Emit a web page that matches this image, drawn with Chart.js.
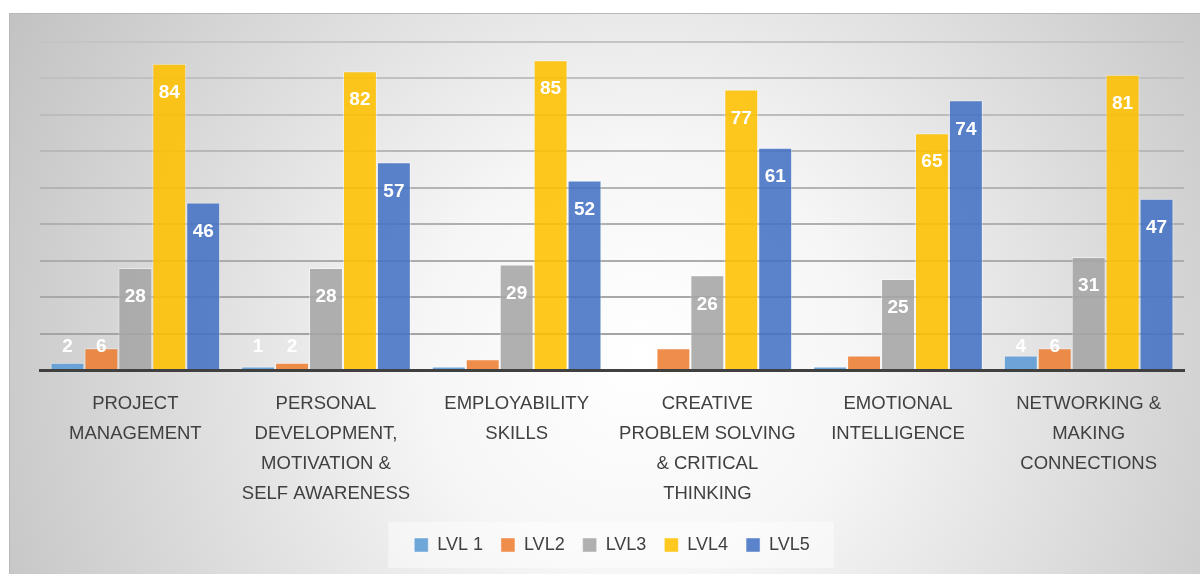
<!DOCTYPE html>
<html>
<head>
<meta charset="utf-8">
<script src="https://cdn.jsdelivr.net/npm/chart.js@4.4.1/dist/chart.umd.min.js"></script>
<style>
  html, body { margin: 0; padding: 0; background: #ffffff; }
  #wrap { width: 1200px; height: 574px; position: relative; }
</style>
</head>
<body>
<div id="wrap"><canvas id="chart"></canvas></div>
<script>
var categories = [
    ['PROJECT', 'MANAGEMENT'],
    ['PERSONAL', 'DEVELOPMENT,', 'MOTIVATION &', 'SELF AWARENESS'],
    ['EMPLOYABILITY', 'SKILLS'],
    ['CREATIVE', 'PROBLEM SOLVING', '& CRITICAL', 'THINKING'],
    ['EMOTIONAL', 'INTELLIGENCE'],
    ['NETWORKING &', 'MAKING', 'CONNECTIONS']
];
var levelNames = ['LVL 1', 'LVL2', 'LVL3', 'LVL4', 'LVL5'];
var lvl1 = [2, 1, 1, 0, 1, 4];
var lvl2 = [6, 2, 3, 6, 4, 6];
var lvl3 = [28, 28, 29, 26, 25, 31];
var lvl4 = [84, 82, 85, 77, 65, 81];
var lvl5 = [46, 57, 52, 61, 74, 47];
// categories whose tiny LVL1/LVL2 values still get a label in the picture
var smallLabelCats = [0, 1, 5];
var yMax = 90;
var yStep = 10;

var colors = ['rgba(91,155,213,0.88)', 'rgba(237,125,49,0.88)', 'rgba(165,165,165,0.88)',
              'rgba(255,192,0,0.88)', 'rgba(68,114,196,0.88)'];
var font = "'Liberation Sans', Arial, sans-serif";

var bgPlugin = {
    id: 'bg',
    beforeDraw: function(chart) {
        var ctx = chart.ctx;
        ctx.save();
        var g = ctx.createRadialGradient(640, 360, 0, 640, 360, 720);
        g.addColorStop(0, '#ffffff');
        g.addColorStop(0.3, '#f6f6f6');
        g.addColorStop(1, '#c2c2c2');
        ctx.fillStyle = g;
        ctx.fillRect(9, 13, 1191, 561);
        ctx.fillStyle = '#b8b8b8';
        ctx.fillRect(9, 13, 1, 561);
        ctx.fillRect(9, 13, 1191, 1);

        // lighter panel behind the legend
        var boxes = chart.legend.legendHitBoxes;
        if (boxes && boxes.length) {
            var first = boxes[0], last = boxes[boxes.length - 1];
            ctx.fillStyle = 'rgba(255,255,255,0.45)';
            ctx.fillRect(first.left - 26, 522, last.left + last.width - first.left + 50, 46);
        }
        ctx.restore();
    }
};

var valuePlugin = {
    id: 'values',
    afterDatasetsDraw: function(chart) {
        var ctx = chart.ctx;
        ctx.save();
        ctx.font = 'bold 19px ' + font;
        ctx.fillStyle = '#ffffff';
        ctx.textAlign = 'center';
        ctx.textBaseline = 'middle';
        chart.data.datasets.forEach(function(ds, i) {
            var meta = chart.getDatasetMeta(i);
            meta.data.forEach(function(bar, j) {
                var v = ds.data[j];
                if (!v) return;
                if (i < 2 && smallLabelCats.indexOf(j) < 0) return;
                var y = Math.min(bar.y + 29, bar.base - 22);
                ctx.fillText(String(v), bar.x, y);
            });
        });
        ctx.restore();
    }
};

var series = [lvl1, lvl2, lvl3, lvl4, lvl5];
var datasets = series.map(function(d, i) {
    return {
        label: levelNames[i],
        data: d,
        backgroundColor: colors[i],
        borderColor: 'rgba(255,255,255,0.45)',
        borderWidth: 1,
        categoryPercentage: 0.89,
        barPercentage: 1.0
    };
});

new Chart(document.getElementById('chart'), {
    type: 'bar',
    data: { labels: categories, datasets: datasets },
    plugins: [bgPlugin, valuePlugin],
    options: {
        responsive: true,
        maintainAspectRatio: false,
        animation: false,
        layout: { padding: { left: 40, right: 16, top: 42, bottom: 10 } },
        plugins: {
            legend: {
                position: 'bottom',
                labels: {
                    boxWidth: 14,
                    boxHeight: 14,
                    padding: 18,
                    color: '#404040',
                    font: { family: font, size: 18 }
                }
            },
            tooltip: { enabled: false }
        },
        scales: {
            x: {
                afterFit: function(scale) { scale.height -= 10; },
                grid: { display: false, drawTicks: false },
                border: { display: true, color: '#404040', width: 3 },
                ticks: {
                    color: '#404040',
                    font: { family: font, size: 18.5, lineHeight: 1.62 },
                    padding: 19,
                    maxRotation: 0,
                    autoSkip: false
                }
            },
            y: {
                min: 0,
                max: yMax,
                ticks: { display: false, stepSize: yStep },
                border: { display: false },
                grid: {
                    drawTicks: false,
                    lineWidth: 2,
                    color: function(c) {
                        var t = c.tick ? c.tick.value / yMax : 0;
                        var v = Math.round(160 + 36 * t);
                        return 'rgb(' + v + ',' + v + ',' + v + ')';
                    }
                }
            }
        }
    }
});
</script>
</body>
</html>
